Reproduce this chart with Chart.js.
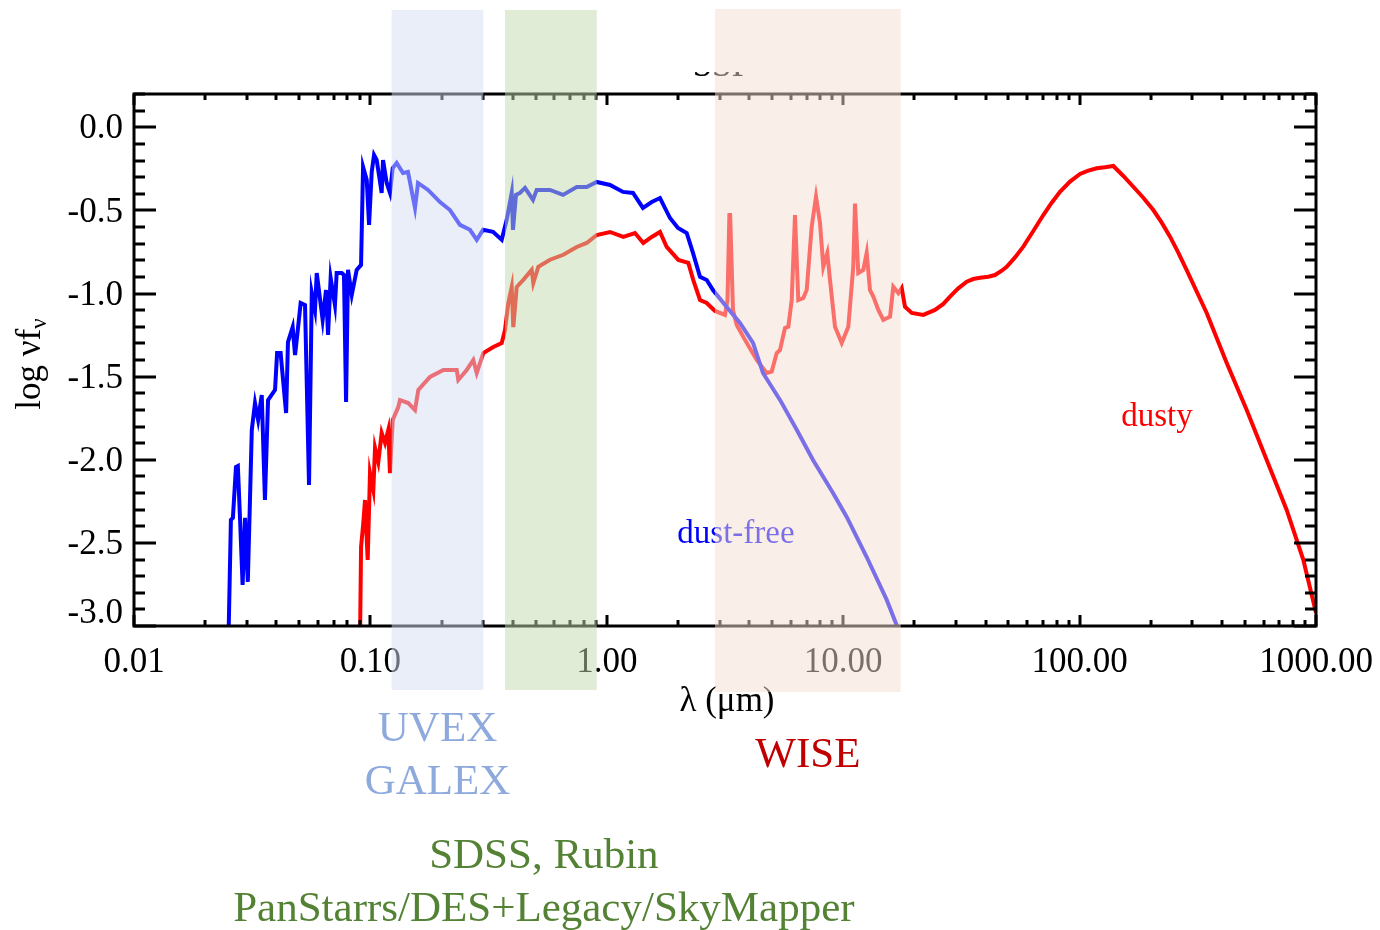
<!DOCTYPE html>
<html><head><meta charset="utf-8">
<script src="https://cdn.jsdelivr.net/npm/chart.js@4.4.1/dist/chart.umd.min.js"></script>
<style>html,body{margin:0;padding:0;background:#fff}#wrap{width:1380px;height:930px}</style>
</head><body><div id="wrap"><canvas id="c" width="1380" height="930"></canvas></div>
<script>
// ---- data (wavelength in micron, log nu f_nu) ----
const lamBlue=[0.0251,0.0257,0.0262,0.0270,0.0275,0.0281,0.0288,0.0295,0.0303,0.0315,
0.0325,0.0335,0.0347,0.0358,0.0369,0.0395,0.0403,0.0417,0.0440,0.0448,
0.0469,0.0480,0.0494,0.0507,0.0529,0.0550,0.0565,0.0583,0.0593,0.0628,
0.0649,0.0662,0.0679,0.0708,0.0720,0.0756,0.0773,0.0789,0.0804,0.0834,
0.0875,0.0913,0.0931,0.0965,0.0987,0.1013,0.1036,0.1063,0.1087,0.1116,
0.1131,0.1172,0.1210,0.1243,0.1292,0.1374,0.1442,0.1544,0.1590,0.1753,
0.1970,0.2171,0.2393,0.2638,0.2817,0.2995,0.3301,0.3593,0.3772,0.3960,
0.4010,0.4129,0.4293,0.4508,0.4873,0.5052,0.5751,0.6527,0.7460,0.8222,
0.9065,1.032,1.171,1.291,1.422,1.549,1.679,1.851,2.001,2.178,
2.315,2.479,2.646,2.813,3.215,3.660,4.154,4.578,5.404,6.358,
7.453,9.056,10.35,12.57,15.28,16.89];
const valBlue=[-3.08,-2.362,-2.350,-2.044,-2.038,-2.362,-2.753,-2.350,-2.735,-1.821,
-1.659,-1.761,-1.611,-2.242,-1.641,-1.580,-1.358,-1.358,-1.719,-1.292,
-1.202,-1.370,-1.208,-1.057,-1.069,-2.152,-0.997,-1.099,-0.877,-1.159,
-0.979,-1.249,-0.906,-1.069,-0.877,-0.877,-0.889,-1.653,-0.858,-1.008,
-0.858,-0.828,-0.239,-0.317,-0.587,-0.269,-0.167,-0.197,-0.287,-0.395,
-0.197,-0.335,-0.395,-0.245,-0.215,-0.275,-0.269,-0.485,-0.335,-0.377,
-0.450,-0.498,-0.587,-0.617,-0.677,-0.617,-0.629,-0.677,-0.557,-0.395,
-0.617,-0.407,-0.395,-0.365,-0.437,-0.377,-0.377,-0.407,-0.360,-0.360,
-0.329,-0.347,-0.389,-0.395,-0.485,-0.450,-0.426,-0.546,-0.606,-0.636,
-0.756,-0.900,-0.919,-0.979,-1.081,-1.177,-1.297,-1.478,-1.640,-1.820,
-2.001,-2.200,-2.344,-2.585,-2.843,-3.0];

const lamRed=[0.0904,0.0913,0.0933,0.0949,0.0974,0.0996,0.1029,0.1046,0.1080,0.1116,
0.1153,0.1190,0.1210,0.1243,0.1312,0.1334,0.1446,0.1544,0.1595,0.1787,
0.2034,0.2318,0.2354,0.2555,0.2724,0.2817,0.3004,0.3311,0.3593,0.3710,
0.3831,0.3960,0.4023,0.4158,0.4434,0.4812,0.4888,0.5131,0.5751,0.6546,
0.7460,0.8222,0.9065,1.032,1.174,1.316,1.427,1.549,1.679,1.792,
2.007,2.212,2.322,2.479,2.646,2.869,3.162,3.240,3.300,3.325,
3.418,3.544,3.842,4.306,4.747,4.984,5.233,5.404,5.674,5.860,
6.056,6.254,6.457,6.780,7.008,7.358,7.674,7.978,8.238,8.566,
8.794,9.233,9.856,10.51,11.03,11.22,11.58,12.16,12.57,12.98,
13.41,14.08,14.78,15.78,16.29,17.11,17.68,18.25,19.49,21.82,
24.45,26.51,28.30,30.68,33.30,35.49,37.90,41.11,43.86,46.83,
49.16,53.30,57.79,63.70,70.22,76.21,82.63,91.08,100.4,108.8,
118.1,128.0,138.9,153.1,168.7,186.0,205.0,222.5,241.3,261.5,
283.8,344.9,419.1,509.2,618.7,751.6,883.7,1000];
const valRed=[-3.084,-2.525,-2.381,-2.242,-2.603,-2.080,-2.182,-1.929,-2.014,-1.839,
-1.899,-1.821,-2.080,-1.761,-1.683,-1.641,-1.659,-1.701,-1.580,-1.502,
-1.460,-1.460,-1.520,-1.460,-1.400,-1.478,-1.358,-1.322,-1.298,-1.220,
-1.057,-0.961,-1.202,-0.961,-0.918,-0.858,-0.937,-0.840,-0.797,-0.767,
-0.720,-0.696,-0.648,-0.630,-0.660,-0.636,-0.696,-0.660,-0.630,-0.720,
-0.798,-0.816,-0.919,-1.039,-1.057,-1.105,-1.129,-1.039,-0.528,-0.528,
-1.099,-1.189,-1.279,-1.400,-1.478,-1.470,-1.358,-1.340,-1.207,-1.200,
-1.039,-0.528,-1.039,-1.027,-0.979,-0.598,-0.418,-0.576,-0.839,-0.756,
-0.919,-1.200,-1.298,-1.200,-0.839,-0.459,-0.877,-0.859,-0.756,-0.979,
-1.019,-1.099,-1.159,-1.140,-0.959,-0.997,-0.967,-1.079,-1.117,-1.129,
-1.099,-1.063,-1.019,-0.969,-0.929,-0.913,-0.905,-0.899,-0.889,-0.863,
-0.839,-0.783,-0.718,-0.624,-0.528,-0.454,-0.388,-0.327,-0.281,-0.261,
-0.247,-0.241,-0.233,-0.293,-0.358,-0.424,-0.498,-0.574,-0.658,-0.754,
-0.859,-1.117,-1.418,-1.701,-2.001,-2.302,-2.602,-2.921];

const xTickVals=[0.01,0.1,1,10,100,1000];
const xTickLabels=["0.01","0.10","1.00","10.00","100.00","1000.00"];
const yTickVals=[0,-0.5,-1,-1.5,-2,-2.5,-3];
const yTickLabels=["0.0","-0.5","-1.0","-1.5","-2.0","-2.5","-3.0"];

const bandLo=[0.123,0.371,2.869];
const bandHi=[0.3004,0.9065,17.51];
const bandColors=['rgba(211,221,241,0.5)','rgba(193,217,173,0.5)','rgba(245,221,209,0.5)'];
const bandLabels=[["UVEX","GALEX"],["SDSS, Rubin","PanStarrs/DES+Legacy/SkyMapper"],["WISE"]];
const bandLabelColors=['#8eaadc','#548235','#c00000'];

const SERIF='"Liberation Serif","Times New Roman",serif';

const decor={id:'decor',
afterDatasetsDraw(chart){
  const {ctx,chartArea:a,scales:{x,y}}=chart;
  ctx.save();
  ctx.strokeStyle='#000';ctx.lineWidth=3;ctx.lineCap='butt';
  ctx.strokeRect(a.left,a.top,a.right-a.left,a.bottom-a.top);
  ctx.beginPath();
  for(const d of xTickVals){
    for(let m=1;m<=9;m++){
      const v=d*m; if(v>1000.0001) break;
      const px=Math.round(x.getPixelForValue(v));
      const len=(m===1)?11:6;
      ctx.moveTo(px,a.bottom);ctx.lineTo(px,a.bottom-len);
      ctx.moveTo(px,a.top);ctx.lineTo(px,a.top+len);
    }
  }
  for(let k=-30;k<=2;k++){
    const py=Math.round(y.getPixelForValue(k/10));
    const len=(k%5===0)?22:11;
    ctx.moveTo(a.left,py);ctx.lineTo(a.left+len,py);
    ctx.moveTo(a.right,py);ctx.lineTo(a.right-len,py);
  }
  ctx.stroke();
  ctx.fillStyle='#000';
  ctx.font='35px '+SERIF;
  ctx.textAlign='center';ctx.textBaseline='middle';
  xTickVals.forEach((v,i)=>ctx.fillText(xTickLabels[i],x.getPixelForValue(v),a.bottom+37));
  ctx.textAlign='right';
  yTickVals.forEach((v,i)=>{
    const py=Math.min(y.getPixelForValue(v)+2,a.bottom-12);
    ctx.fillText(yTickLabels[i],a.left-11,py);
  });
  ctx.textAlign='center';
  ctx.fillText('λ (μm)',(a.left+a.right)/2+2,702);
  // y title
  ctx.save();
  ctx.translate(31,364);ctx.rotate(-Math.PI/2);
  ctx.textAlign='left';ctx.textBaseline='middle';
  const main='log νf';
  ctx.font='35px '+SERIF;
  const w1=ctx.measureText(main).width;
  ctx.font='23px '+SERIF;
  const w2=ctx.measureText('ν').width;
  const x0=-(w1+w2)/2;
  ctx.font='35px '+SERIF;
  ctx.fillText(main,x0,0);
  ctx.font='23px '+SERIF;
  ctx.fillText('ν',x0+w1,9);
  ctx.restore();
  // title (mostly hidden above the frame)
  ctx.save();
  ctx.beginPath();ctx.rect(0,72,1380,12);ctx.clip();
  ctx.font='35px '+SERIF;ctx.textAlign='center';ctx.textBaseline='alphabetic';
  ctx.fillText('SSP',(a.left+a.right)/2-3,75.5);
  ctx.restore();
  // series labels
  ctx.font='33px '+SERIF;ctx.textAlign='center';ctx.textBaseline='middle';
  ctx.fillStyle='#0000ff';ctx.fillText('dust-free',736,534);
  ctx.fillStyle='#ff0000';ctx.fillText('dusty',1157,417);
  ctx.restore();
},
afterDraw(chart){
  const {ctx,scales:{x}}=chart;
  ctx.save();
  const tops=[10,10,9], bots=[690,690,692];
  bandLo.forEach((lo,i)=>{
    const x1=x.getPixelForValue(lo), x2=x.getPixelForValue(bandHi[i]);
    ctx.fillStyle=bandColors[i];
    ctx.fillRect(x1,tops[i],x2-x1,bots[i]-tops[i]);
  });
  ctx.font='43px '+SERIF;ctx.textAlign='center';ctx.textBaseline='middle';
  const ys=[[730,783],[857,910],[756]];
  const dx=[0,-7,0];
  bandLabels.forEach((lines,i)=>{
    const cx=(x.getPixelForValue(bandLo[i])+x.getPixelForValue(bandHi[i]))/2+dx[i];
    ctx.fillStyle=bandLabelColors[i];
    lines.forEach((t,j)=>ctx.fillText(t,cx,ys[i][j]));
  });
  ctx.restore();
}};

new Chart(document.getElementById('c').getContext('2d'),{
  type:'line',
  data:{datasets:[
    {label:'dust-free',data:lamBlue.map((l,i)=>({x:l,y:valBlue[i]})),borderColor:'#0000ff',borderWidth:4,pointRadius:0,tension:0,fill:false},
    {label:'dusty',data:lamRed.map((l,i)=>({x:l,y:valRed[i]})),borderColor:'#ff0000',borderWidth:4,pointRadius:0,tension:0,fill:false}
  ]},
  options:{
    responsive:false,animation:false,events:[],
    layout:{padding:{left:0,right:64,top:94,bottom:0}},
    plugins:{legend:{display:false},tooltip:{enabled:false},title:{display:false}},
    scales:{
      x:{type:'logarithmic',min:0.01,max:1000,grid:{display:false,drawTicks:false},border:{display:false},ticks:{display:false},
         afterFit(s){s.height=930-626;}},
      y:{type:'linear',min:-3,max:0.2,grid:{display:false,drawTicks:false},border:{display:false},ticks:{display:false},
         afterFit(s){s.width=134;}}
    }
  },
  plugins:[decor]
});
</script>
</body></html>
